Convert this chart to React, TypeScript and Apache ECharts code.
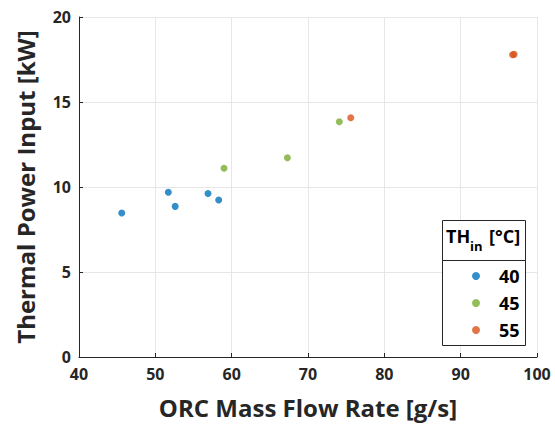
import React, { useEffect, useRef } from "react";
import * as echarts from "echarts";

const xTicks = [40, 50, 60, 70, 80, 90, 100];
const yTicks = [0, 5, 10, 15, 20];

const seriesNames = ["40", "45", "55"];
const seriesColors = ["#0072BD", "#77AC30", "#D95319"];

const flow40 = [45.6, 51.7, 52.6, 56.9, 58.3];
const power40 = [8.47, 9.69, 8.86, 9.62, 9.24];
const flow45 = [59.0, 67.3, 74.1];
const power45 = [11.1, 11.72, 13.84];
const flow55 = [75.6, 96.8, 97.0];
const power55 = [14.07, 17.78, 17.8];

const FONT = "Open Sans";
const TEXT = "#262626";

export default function App() {
  const ref = useRef<HTMLDivElement>(null);
  useEffect(() => {
    const chart = echarts.init(ref.current!, null, { renderer: "svg" });
    const pairs = (xs: number[], ys: number[]) => xs.map((x, i) => [x, ys[i]]);
    const data = [pairs(flow40, power40), pairs(flow45, power45), pairs(flow55, power55)];
    chart.setOption({
      animation: false,
      backgroundColor: "#ffffff",
      textStyle: { fontFamily: FONT },
      grid: { left: 79, right: 18, top: 17, bottom: 68 },
      xAxis: {
        type: "value",
        min: xTicks[0],
        max: xTicks[xTicks.length - 1],
        interval: 10,
        name: "ORC Mass Flow Rate [g/s]",
        nameLocation: "middle",
        nameGap: 38,
        nameTextStyle: { fontFamily: FONT, fontWeight: "bold", fontSize: 24, color: TEXT },
        axisLine: { show: true, lineStyle: { color: TEXT, width: 1 } },
        axisTick: { show: true, inside: true, length: 4, lineStyle: { color: TEXT } },
        axisLabel: { fontFamily: FONT, fontWeight: "bold", fontSize: 16, color: TEXT, margin: 9 },
        splitLine: { show: true, lineStyle: { color: "#e6e6e6", width: 1 } },
      },
      yAxis: {
        type: "value",
        min: yTicks[0],
        max: yTicks[yTicks.length - 1],
        interval: 5,
        name: "Thermal Power Input [kW]",
        nameLocation: "middle",
        nameGap: 42,
        nameRotate: 90,
        nameTextStyle: { fontFamily: FONT, fontWeight: "bold", fontSize: 24, color: TEXT },
        axisLine: { show: true, lineStyle: { color: TEXT, width: 1 } },
        axisTick: { show: true, inside: true, length: 4, lineStyle: { color: TEXT } },
        axisLabel: { fontFamily: FONT, fontWeight: "bold", fontSize: 16, color: TEXT, margin: 8 },
        splitLine: { show: true, lineStyle: { color: "#e6e6e6", width: 1 } },
      },
      legend: {
        orient: "vertical",
        left: 467,
        top: 261,
        z: 10,
        icon: "circle",
        itemWidth: 8,
        itemHeight: 8,
        itemGap: 7,
        data: seriesNames,
        textStyle: {
          fontFamily: FONT,
          fontWeight: "bold",
          fontSize: 18,
          lineHeight: 20,
          color: "#000",
          padding: [0, 0, 0, 14],
        },
      },
      graphic: [
        {
          type: "rect",
          z: 3,
          shape: { x: 442.5, y: 220.5, width: 83, height: 125 },
          style: { fill: "#ffffff", stroke: "#262626", lineWidth: 1 },
        },
        {
          type: "line",
          z: 4,
          shape: { x1: 442.5, y1: 260.5, x2: 525.5, y2: 260.5 },
          style: { stroke: "#262626", lineWidth: 1 },
        },
        {
          type: "text",
          z: 5,
          x: 446,
          y: 236,
          style: { text: "TH", fontFamily: FONT, fontWeight: "bold", fontSize: 18, fill: "#000", verticalAlign: "middle" },
        },
        {
          type: "text",
          z: 5,
          x: 470,
          y: 246,
          style: { text: "in", fontFamily: FONT, fontWeight: "bold", fontSize: 13, fill: "#000", verticalAlign: "middle" },
        },
        {
          type: "text",
          z: 5,
          x: 489,
          y: 236,
          style: { text: "[°C]", fontFamily: FONT, fontWeight: "bold", fontSize: 18, fill: "#000", verticalAlign: "middle" },
        },
      ],
      series: seriesNames.map((name, i) => ({
        name,
        type: "scatter",
        symbol: "circle",
        symbolSize: 7,
        itemStyle: { color: seriesColors[i] },
        data: data[i],
      })),
    });
    return () => chart.dispose();
  }, []);
  return <div ref={ref} style={{ width: 555, height: 425, position: "absolute", left: 0, top: 0 }} />;
}
